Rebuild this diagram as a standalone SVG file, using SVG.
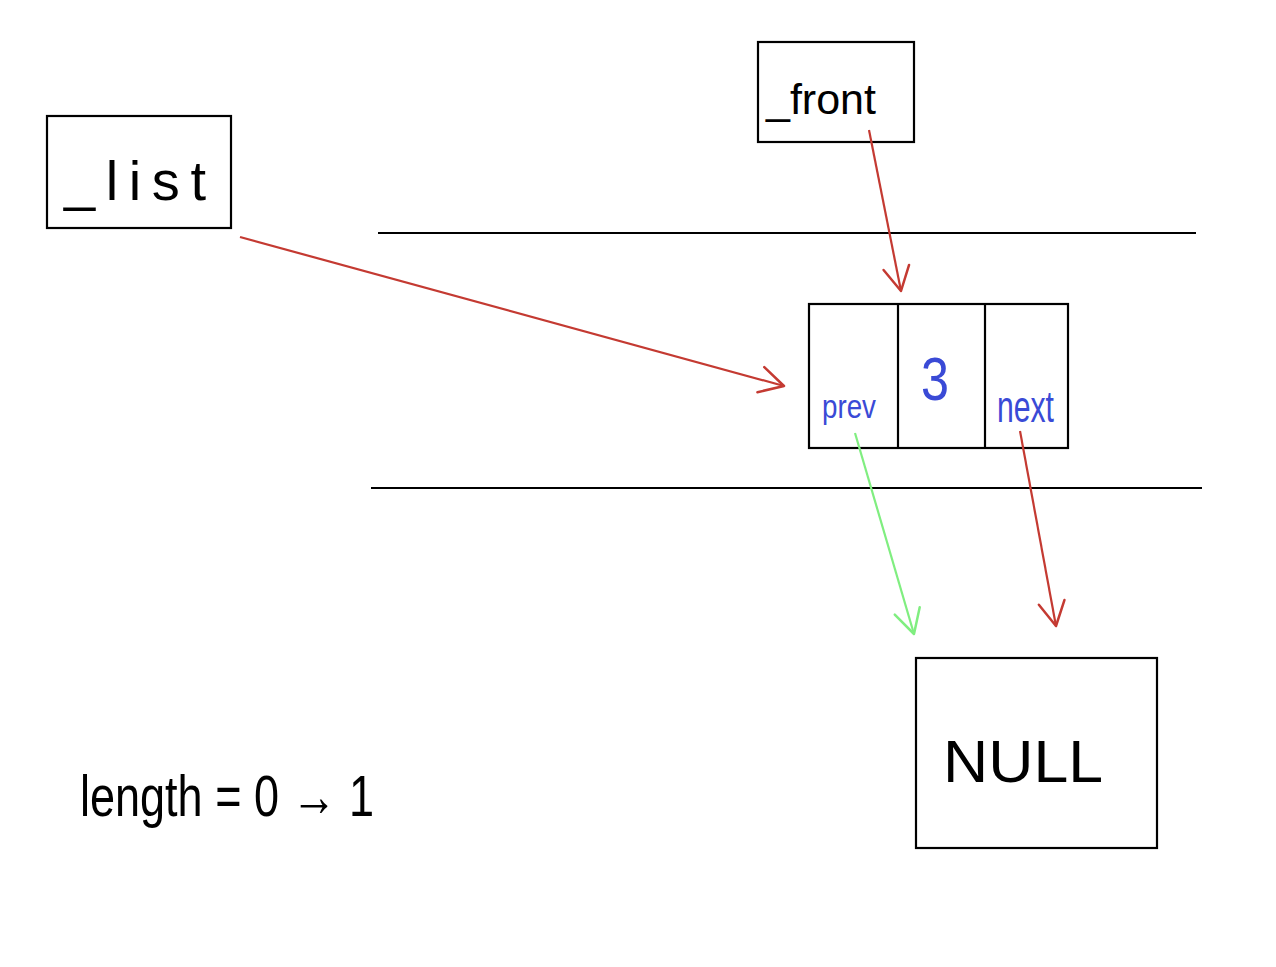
<svg xmlns="http://www.w3.org/2000/svg" width="1276" height="967" viewBox="0 0 1276 967">
<style>
.box{fill:none;stroke:#000;stroke-width:2.2}
.rule{stroke:#000;stroke-width:2.2}
.hand{font-family:"Liberation Sans",sans-serif;fill:#000;font-weight:300}
.blue{fill:#3a4ad6}
.red{stroke:#c43a32;stroke-width:2.2;fill:none}
.green{stroke:#80ee80;stroke-width:2.2;fill:none}
</style>
<defs>
<marker id="ar" markerUnits="userSpaceOnUse" viewBox="-30 -16 34 32" refX="0" refY="0" markerWidth="34" markerHeight="32" orient="auto">
<path d="M-24,-13 L0,0 L-24,13" fill="none" stroke="#c43a32" stroke-width="2.5" stroke-linecap="round" stroke-linejoin="round"/>
</marker>
<marker id="ag" markerUnits="userSpaceOnUse" viewBox="-30 -16 34 32" refX="0" refY="0" markerWidth="34" markerHeight="32" orient="auto">
<path d="M-24,-13 L0,0 L-24,13" fill="none" stroke="#80ee80" stroke-width="2.5" stroke-linecap="round" stroke-linejoin="round"/>
</marker>
</defs>
<rect width="1276" height="967" fill="#fff"/>
<g id="rules">
<line class="rule" x1="378" y1="233" x2="1196" y2="233"/>
<line class="rule" x1="371" y1="488" x2="1202" y2="488"/>
</g>
<g id="list">
<rect class="box" x="47" y="116" width="184" height="112"/>
<text class="hand" x="64" y="200" font-size="56" textLength="142" lengthAdjust="spacing">_list</text>
</g>
<g id="front">
<rect class="box" x="758" y="42" width="156" height="100"/>
<text class="hand" x="766" y="114" font-size="42" textLength="110" lengthAdjust="spacingAndGlyphs">_front</text>
</g>
<g id="node">
<rect class="box" x="809" y="304" width="259" height="144"/>
<line class="rule" x1="898" y1="304" x2="898" y2="448"/>
<line class="rule" x1="985" y1="304" x2="985" y2="448"/>
<text class="hand blue" x="822" y="418" font-size="34" textLength="54" lengthAdjust="spacingAndGlyphs">prev</text>
<text class="hand blue" x="921" y="400" font-size="62" textLength="28" lengthAdjust="spacingAndGlyphs">3</text>
<text class="hand blue" x="997" y="422" font-size="44" textLength="57" lengthAdjust="spacingAndGlyphs">next</text>
</g>
<g id="null">
<rect class="box" x="916" y="658" width="241" height="190"/>
<text class="hand" x="943" y="782" font-size="60" textLength="160" lengthAdjust="spacingAndGlyphs">NULL</text>
</g>
<g id="length">
<text class="hand" x="80" y="816" font-size="58" textLength="294" lengthAdjust="spacingAndGlyphs">length = 0 → 1</text>
</g>
<g id="connectors">
<line class="red" x1="240" y1="237" x2="784" y2="386" marker-end="url(#ar)"/>
<line class="red" x1="869" y1="130" x2="901" y2="291" marker-end="url(#ar)"/>
<line class="green" x1="855" y1="433" x2="914" y2="634" marker-end="url(#ag)"/>
<line class="red" x1="1020" y1="431" x2="1056" y2="626" marker-end="url(#ar)"/>
</g>
</svg>
